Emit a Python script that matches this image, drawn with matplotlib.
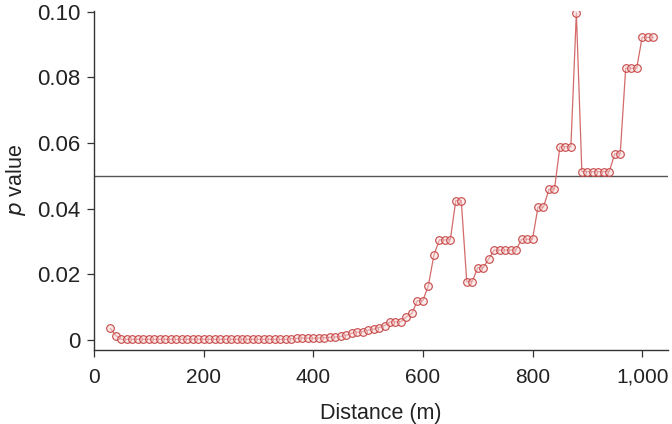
import numpy as np
import matplotlib.pyplot as plt

plt.rcParams['font.family'] = ['Liberation Sans', 'DejaVu Sans']

# distance in metres, one point every 10 m
distance = list(range(30, 1030, 10))

p_low = [0.0035, 0.0013] + [0.0002] * 31   # 30 .. 350 m
p_rise = [0.0004, 0.0005, 0.0006, 0.0006, 0.0005, 0.0006, 0.0007, 0.0008,
          0.0009, 0.0011, 0.0014, 0.0021, 0.0024, 0.0025, 0.0030, 0.0033,
          0.0038, 0.0044, 0.0055, 0.0055, 0.0056, 0.0071, 0.0081, 0.0120,
          0.0120, 0.0166, 0.0258, 0.0305, 0.0305, 0.0305, 0.0425, 0.0425]  # 360 .. 670 m
p_high = [0.0178, 0.0178, 0.0220, 0.0220, 0.0247, 0.0274, 0.0274, 0.0274,
          0.0274, 0.0274, 0.0307, 0.0307, 0.0307, 0.0405, 0.0405, 0.0459,
          0.0459, 0.0589, 0.0589, 0.0589, 0.0997, 0.0513, 0.0513, 0.0513,
          0.0513, 0.0513, 0.0513, 0.0567, 0.0567, 0.0828, 0.0828, 0.0828,
          0.0922, 0.0922, 0.0922]  # 680 .. 1020 m
p_value = p_low + p_rise + p_high

threshold = 0.05

x_ticks = [0, 200, 400, 600, 800, 1000]
x_labels = ['0', '200', '400', '600', '800', '1,000']
y_ticks = [0, 0.02, 0.04, 0.06, 0.08, 0.10]
y_labels = ['0', '0.02', '0.04', '0.06', '0.08', '0.10']

fig = plt.figure(figsize=(6.72, 4.24), dpi=100)
ax = fig.add_axes([0.1399, 0.1757, 0.854, 0.798])

ax.axhline(threshold, color='#555555', lw=1.0, zorder=1)
ax.plot(distance, p_value, color='#d46a6a', lw=0.9, marker='o', ms=5.5,
        mfc=(0.97, 0.85, 0.85, 0.5), mec='#c84848', mew=0.8, zorder=2)

ax.set_xlim(0, 1047)
ax.set_ylim(-0.0029, 0.1002)

ax.set_xticks(x_ticks)
ax.set_xticklabels(x_labels)
ax.set_yticks(y_ticks)
ax.set_yticklabels(y_labels)

for s in ['top', 'right']:
    ax.spines[s].set_visible(False)
for s in ['left', 'bottom']:
    ax.spines[s].set_color('#333333')
    ax.spines[s].set_linewidth(1.0)

ax.tick_params(axis='both', direction='out', length=5, width=0.9,
               color='#333333', labelcolor='#222222')
ax.tick_params(axis='y', pad=5, labelsize=16)
ax.tick_params(axis='x', pad=8, labelsize=15)

ax.set_xlabel('Distance (m)', fontsize=15.5, color='#222222', labelpad=12)
ax.set_ylabel(r'$\it{p}$ value', fontsize=15.5, color='#222222', labelpad=6)

fig.savefig('out.png', dpi=100)
